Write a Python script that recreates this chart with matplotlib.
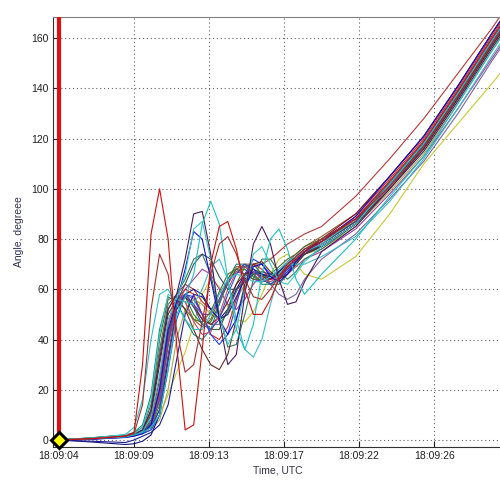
import matplotlib
matplotlib.use("Agg")
import matplotlib.pyplot as plt

plt.rcParams['font.family'] = ['Liberation Sans', 'DejaVu Sans']

# time axis, seconds after 18:09:00
t = [4.6, 6.5, 8.5,
     9.0, 9.5, 10.0, 10.5, 11.0, 11.5, 12.0, 12.5, 13.0, 13.5, 14.0,
     14.5, 15.0, 15.5, 16.0, 16.5, 17.0, 17.5, 18.0, 18.5, 19.0,
     20.0, 22.0, 24.0, 26.0, 28.0, 30.0, 30.6]

tick_pos = [4.6, 9.0, 13.4, 17.8, 22.2, 26.6]
tick_lab = ['18:09:04', '18:09:09', '18:09:13', '18:09:17', '18:09:22', '18:09:26']
y_ticks = [0, 20, 40, 60, 80, 100, 120, 140, 160]

event_t = 4.6

# angle of each object, degrees
a_red = [0, 0.5, 1.5, 3, 30, 82, 100, 80, 38, 4, 6, 36, 70, 85, 87, 76, 60, 50, 50, 56, 64, 69, 72, 75, 79, 88, 103, 119, 139, 160, 166]
a_dkred = [0, 0.6, 1.6, 2.5, 14, 52, 74, 66, 44, 27, 30, 47, 66, 78, 81, 74, 64, 57, 56, 60, 65, 70, 73, 76, 80, 88, 101, 117, 137, 158, 164]
a_cyan1 = [0, 0.5, 1.2, 2, 3, 5, 10, 28, 50, 57, 66, 86, 95, 86, 64, 44, 36, 46, 66, 80, 84, 76, 64, 58, 66, 80, 97, 113, 134, 155, 161]
a_purple = [0, 0.4, 1.5, 2, 4, 12, 32, 52, 58, 72, 90, 91, 74, 48, 30, 34, 58, 78, 85, 78, 64, 54, 55, 63, 75, 85, 100, 115, 135, 156, 162]
a_cyan2 = [0, 0.7, 2, 2.5, 5, 16, 42, 58, 56, 66, 84, 87, 72, 50, 38, 44, 60, 74, 77, 70, 63, 62, 66, 71, 77, 86, 102, 118, 138, 159, 165]
a_blue = [0, 0.3, 1.0, 1.5, 2.5, 6, 20, 44, 55, 68, 83, 80, 64, 48, 42, 48, 60, 69, 70, 65, 63, 66, 71, 75, 79, 89, 105, 121, 141, 162, 168]
a_green = [0, 0.8, 1.8, 2.5, 3, 5, 14, 38, 55, 57, 50, 46, 47, 54, 63, 68, 68, 65, 63, 64, 67, 70, 73, 76, 79, 87, 102, 118, 138, 159, 165]
a_navy = [0, -0.8, -1.8, -1.5, -0.5, 2, 10, 32, 52, 58, 60, 58, 52, 48, 52, 60, 66, 68, 66, 64, 66, 69, 72, 74, 77, 86, 101, 116, 136, 157, 163]
a_yellow = [0, 0.6, 1.4, 2, 3, 5, 10, 18, 27, 35, 46, 58, 64, 61, 53, 48, 47, 51, 58, 66, 72, 74, 70, 66, 64, 73, 90, 110, 126, 142, 147]
a_magenta = [0, 0.5, 1.5, 2, 3, 6, 18, 42, 56, 60, 64, 68, 66, 60, 54, 52, 56, 62, 66, 66, 65, 66, 69, 72, 75, 84, 98, 113, 132, 152, 158]
a_teal = [0, 0.9, 2.0, 3, 6, 18, 44, 57, 55, 48, 42, 40, 44, 54, 64, 70, 70, 66, 62, 62, 65, 69, 72, 75, 80, 88, 103, 119, 139, 160, 166]
a_brown = [0, 0.7, 1.9, 2.5, 3.5, 6, 18, 42, 56, 55, 48, 45, 48, 56, 64, 69, 69, 66, 63, 64, 67, 71, 74, 77, 81, 90, 105, 121, 141, 162, 168]
a_upper = [0, 0.6, 1.7, 2.5, 4, 11, 34, 52, 58, 62, 60, 55, 52, 55, 62, 68, 70, 70, 70, 72, 75, 78, 80, 82, 85, 97, 112, 128, 146, 164, 170]
a_grape = [0, 0.5, 1.4, 2, 3, 6, 16, 38, 54, 58, 56, 50, 46, 46, 51, 59, 65, 68, 66, 62, 58, 56, 58, 64, 72, 82, 96, 111, 130, 151, 157]
a_cyan3 = [0, 0.8, 2.2, 5, 16, 40, 58, 60, 54, 48, 44, 44, 50, 58, 64, 66, 65, 63, 63, 65, 68, 71, 73, 75, 78, 88, 103, 119, 139, 160, 166]
a_dkgreen = [0, 0.6, 1.6, 2.2, 3.5, 8, 24, 46, 56, 58, 54, 48, 44, 44, 52, 62, 69, 70, 66, 62, 62, 66, 70, 74, 78, 87, 102, 118, 138, 159, 165]
a_red2 = [0, 0.4, 1.2, 1.8, 2.8, 6, 16, 38, 54, 60, 58, 50, 42, 40, 45, 56, 66, 70, 68, 64, 64, 67, 71, 74, 79, 89, 104, 120, 140, 161, 167]
a_blue2 = [0, 0.3, 1.1, 1.6, 2.5, 4, 10, 28, 48, 58, 57, 50, 42, 38, 42, 54, 66, 72, 70, 66, 64, 67, 71, 74, 77, 86, 101, 117, 137, 158, 164]
a_seagreen = [0, 0.7, 1.8, 2.5, 4, 12, 36, 54, 58, 64, 72, 74, 66, 50, 37, 38, 50, 64, 72, 72, 67, 64, 67, 72, 76, 86, 101, 117, 137, 158, 164]
a_olive = [0, 0.5, 1.2, 1.8, 2.6, 4, 8, 20, 40, 52, 56, 54, 50, 48, 50, 56, 62, 66, 66, 65, 66, 69, 72, 74, 76, 85, 99, 114, 134, 155, 161]
a_violet = [0, 0.6, 1.6, 2.3, 3, 6, 16, 40, 55, 58, 54, 50, 50, 56, 63, 67, 66, 64, 63, 64, 67, 70, 73, 76, 78, 87, 102, 118, 138, 159, 165]
a_cyan4 = [0, 0.6, 1.5, 2.2, 3.5, 9, 26, 48, 56, 55, 54, 60, 69, 72, 64, 48, 36, 33, 40, 54, 66, 70, 70, 70, 73, 81, 95, 112, 132, 153, 159]
a_maroon = [0, 0.5, 1.4, 2, 3, 5, 12, 32, 52, 57, 53, 48, 46, 49, 55, 62, 66, 67, 65, 64, 66, 69, 72, 75, 80, 90, 105, 121, 141, 162, 168]
a_navy2 = [0, -0.5, -1.0, 0, 1.5, 3, 6, 14, 32, 50, 58, 57, 52, 48, 50, 57, 64, 67, 66, 65, 67, 70, 73, 75, 77, 86, 102, 118, 138, 159, 165]
a_pink = [0, 0.7, 1.7, 2.4, 3.5, 7, 22, 46, 57, 55, 47, 42, 43, 50, 60, 67, 69, 67, 64, 63, 65, 69, 72, 75, 78, 87, 101, 117, 137, 158, 164]
a_dkolive = [0, 0.8, 1.9, 2.7, 5, 14, 40, 56, 57, 52, 48, 47, 51, 59, 66, 68, 66, 64, 64, 66, 69, 72, 74, 77, 80, 88, 103, 119, 139, 160, 166]
a_slate = [0, 0.5, 1.3, 2, 3, 7, 20, 42, 55, 62, 70, 74, 72, 65, 60, 60, 63, 66, 67, 66, 66, 68, 71, 74, 78, 87, 102, 117, 137, 158, 164]
a_sienna = [0, 0.6, 1.6, 2, 3.5, 10, 30, 50, 56, 52, 44, 36, 30, 28, 34, 48, 62, 70, 71, 67, 64, 66, 70, 74, 77, 86, 100, 116, 136, 157, 163]
a_royal = [0, 0.4, 1.3, 2, 3, 5, 12, 34, 53, 58, 53, 46, 44, 48, 58, 66, 70, 68, 64, 62, 64, 68, 72, 75, 79, 88, 103, 119, 139, 160, 166]

series = [
    (a_yellow, '#c8c83a'), (a_grape, '#7a6a9a'), (a_olive, '#a8a848'),
    (a_upper, '#b03a3a'), (a_green, '#1a8a1a'), (a_navy, '#14147a'),
    (a_magenta, '#a040a0'), (a_teal, '#108888'), (a_brown, '#8b5a2b'),
    (a_dkgreen, '#2f6a2f'), (a_red2, '#d82828'), (a_blue2, '#2040e8'),
    (a_seagreen, '#3a7a60'), (a_violet, '#7040c0'), (a_maroon, '#80102a'),
    (a_navy2, '#1c1c96'), (a_pink, '#c05080'), (a_dkolive, '#556b2f'),
    (a_slate, '#2f4f5f'), (a_sienna, '#603020'), (a_royal, '#3050c0'),
    (a_cyan3, '#30c0c8'), (a_cyan4, '#40b8c8'), (a_blue, '#1010d0'),
    (a_cyan2, '#38c8c8'), (a_purple, '#4a1a5a'), (a_cyan1, '#20c0c0'),
    (a_dkred, '#a03030'), (a_red, '#cc1010'),
]

fig = plt.figure(figsize=(5.0, 4.83), dpi=100)
ax = fig.add_axes([0.106, 0.0745, 0.898, 0.8903])

for vals, col in series:
    ax.plot(t, vals, color=col, lw=0.8)

ax.axvline(event_t, color='#dd1111', lw=3, zorder=5)
ax.plot([event_t], [0], marker='D', ms=8, mfc='#ffff00', mec='black',
        mew=2.2, clip_on=False, zorder=6)

ax.set_xlim(4.25, 30.58)
ax.set_ylim(-2.8, 168.4)
ax.set_xticks(tick_pos)
ax.set_xticklabels(tick_lab)
ax.set_yticks(y_ticks)
ax.tick_params(direction='in', length=4, width=0.8, labelsize=7.5,
               colors='#202020', pad=3)
ax.grid(True, linestyle=(0, (1, 2.5)), color='#606060', lw=0.8)

for side in ['left', 'bottom']:
    ax.spines[side].set_color('#303030')
ax.spines['top'].set_color('#808080')
ax.spines['right'].set_visible(False)

ax.set_xlabel('Time, UTC', fontsize=7.5, color='#303040', labelpad=3)
ax.set_ylabel('Angle, degreee', fontsize=7.5, color='#303050', labelpad=5)

fig.savefig('out.png', dpi=100)
